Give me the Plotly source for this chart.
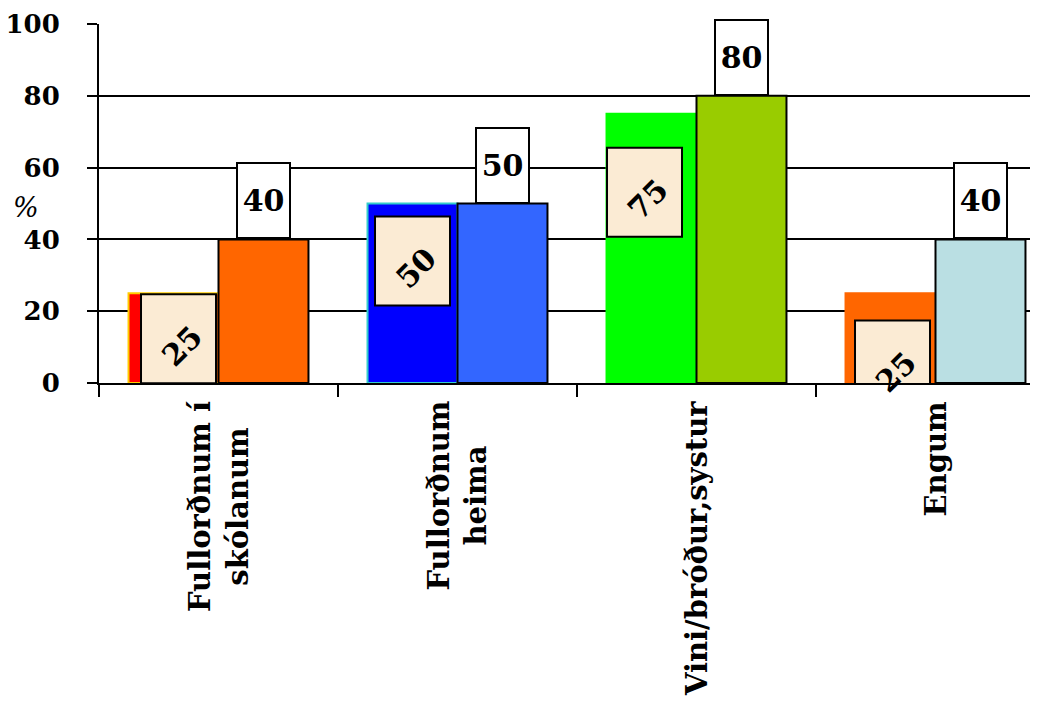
import plotly.graph_objects as go

# ---- data ----
categories = ["Fullorðnum í<br>skólanum", "Fullorðnum<br>heima", "Vini/bróður,systur", "Engum"]
series_a = [25, 50, 75, 25]
series_b = [40, 50, 80, 40]
y_ticks = [0, 20, 40, 60, 80, 100]

# ---- styles ----
colors_a = ["#FF0000", "#0000FF", "#00FF00", "#FF6600"]
edges_a = ["#FFCC00", "#33CCCC", "#00FF00", "#FF6600"]
colors_b = ["#FF6600", "#3366FF", "#99CC00", "#BADFE3"]
box_fill = "#FBEBD4"
FONT = "DejaVu Serif"

# label placement (layout, y centre of rotated-label boxes and pixel shifts)
label_a_y = [12.3, 34.0, 53.1, 5.0]
label_a_dx = [5, 0, -7, 2]

# page body has an 8px margin: compensate so the plot lands where the reference has it
W, H = 1030, 696
L, T, B = 91, 16, 321
cat_px = 239.0
plot_w = W - L
bargap = 0.247
off = (1 - bargap) / 4

x_idx = list(range(len(categories)))

fig = go.Figure()
fig.add_bar(x=x_idx, y=series_a,
            marker=dict(color=colors_a, line=dict(color=edges_a, width=2)),
            hoverinfo="skip")
fig.add_bar(x=x_idx, y=series_b,
            marker=dict(color=colors_b, line=dict(color="black", width=2)),
            hoverinfo="skip")

shapes = []
annotations = []

for i, v in enumerate(series_b):
    annotations.append(dict(
        x=i + off, y=v, xref="x", yref="y", text="<b>" + str(v) + "</b>", showarrow=False,
        xanchor="center", yanchor="bottom", width=51, height=73,
        bgcolor="white", bordercolor="black", borderwidth=2, borderpad=0,
        font=dict(family=FONT, size=30, color="black")))

for i, v in enumerate(series_a):
    dx = label_a_dx[i]
    shapes.append(dict(
        type="rect", xref="x", yref="y", layer="above",
        xsizemode="pixel", ysizemode="pixel",
        xanchor=i - off, yanchor=label_a_y[i],
        x0=dx - 37.5, x1=dx + 37.5, y0=-44.5, y1=44.5,
        fillcolor=box_fill, line=dict(color="black", width=2)))
    annotations.append(dict(
        x=i - off, y=label_a_y[i] - 2, xref="x", yref="y", xshift=dx + 3,
        text="<b>" + str(v) + "</b>", showarrow=False, textangle=-45,
        xanchor="center", yanchor="middle",
        font=dict(family=FONT, size=30, color="black")))

for i, c in enumerate(categories):
    annotations.append(dict(
        x=i, y=0, xref="x", yref="paper", yshift=-16, text="<b>" + c + "</b>", showarrow=False,
        textangle=-90, xanchor="center", yanchor="top", align="center",
        font=dict(family=FONT, size=29, color="black")))

annotations.append(dict(
    x=(18 - L) / plot_w, y=49, xref="paper", yref="y", text="<i>%</i>", showarrow=False,
    xanchor="center", yanchor="middle",
    font=dict(family=FONT, size=27, color="black")))

fig.update_layout(
    width=W, height=H,
    margin=dict(l=L, r=0, t=T, b=B, pad=0, autoexpand=False),
    paper_bgcolor="white", plot_bgcolor="white",
    barmode="group", bargap=bargap, bargroupgap=0,
    showlegend=False,
    shapes=shapes, annotations=annotations,
    xaxis=dict(
        range=[-0.5, -0.5 + plot_w / cat_px], automargin=False,
        tickmode="array", tickvals=[k - 0.5 for k in range(len(categories) + 1)],
        ticktext=[""] * (len(categories) + 1),
        ticks="outside", ticklen=12, tickwidth=2, tickcolor="black",
        showline=True, linecolor="black", linewidth=2,
        showgrid=False, zeroline=False, fixedrange=True),
    yaxis=dict(
        range=[0, 100], tickmode="array", tickvals=y_ticks, automargin=False,
        ticktext=["<b>%d</b>" % t for t in y_ticks],
        ticks="outside", ticklen=10, tickwidth=2, tickcolor="black",
        showline=True, linecolor="black", linewidth=2,
        showgrid=True, gridcolor="black", gridwidth=2,
        zeroline=False, ticklabelstandoff=22, ticklabeloverflow="allow",
        tickfont=dict(family=FONT, size=26, color="black"),
        fixedrange=True),
)

fig.write_html("out.html", config={"displayModeBar": False})
